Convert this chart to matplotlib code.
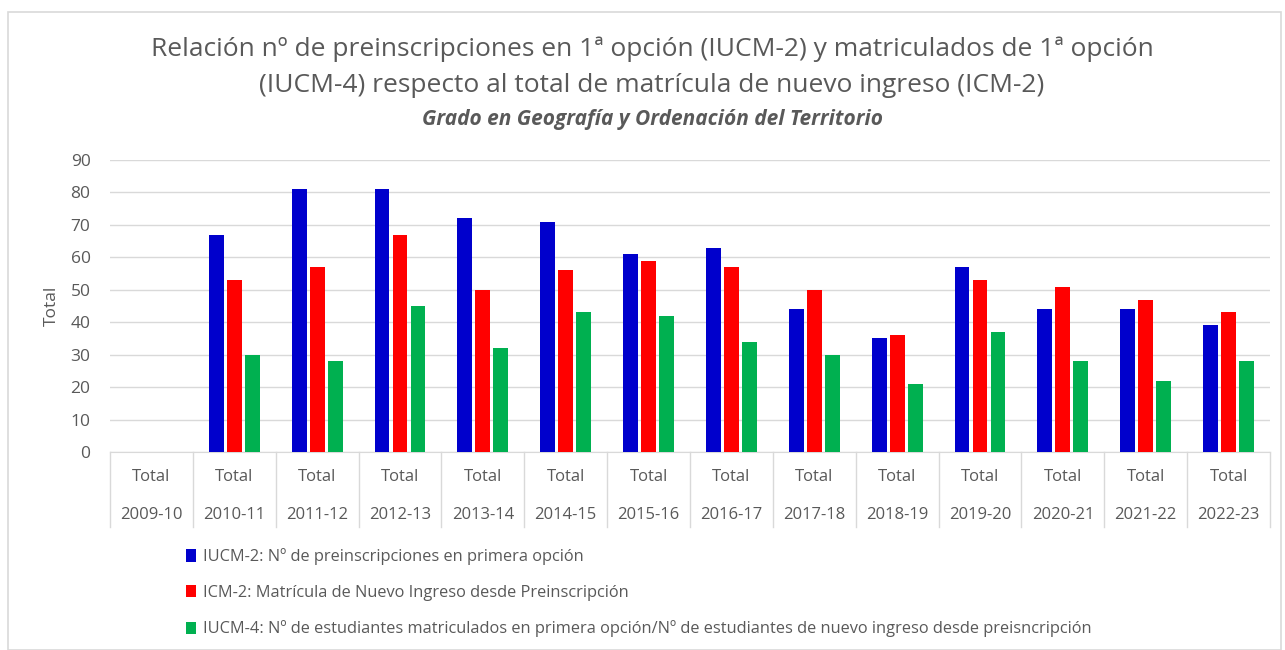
import matplotlib
matplotlib.use('Agg')
import matplotlib.pyplot as plt
from matplotlib.patches import Rectangle
import matplotlib.transforms as mtransforms
import numpy as np

years = ['2009-10', '2010-11', '2011-12', '2012-13', '2013-14', '2014-15', '2015-16',
         '2016-17', '2017-18', '2018-19', '2019-20', '2020-21', '2021-22', '2022-23']
iucm2 = [0, 67, 81, 81, 72, 71, 61, 63, 44, 35, 57, 44, 44, 39]
icm2 = [0, 53, 57, 67, 50, 56, 59, 57, 50, 36, 53, 51, 47, 43]
iucm4 = [0, 30, 28, 45, 32, 43, 42, 34, 30, 21, 37, 28, 22, 28]

labels = ['IUCM-2: Nº de preinscripciones en primera opción',
          'ICM-2: Matrícula de Nuevo Ingreso desde Preinscripción',
          'IUCM-4: Nº de estudiantes matriculados en primera opción/Nº de estudiantes de nuevo ingreso desde preisncripción']
colors = ['#0000CC', '#FF0000', '#00B050']

plt.rcParams['font.family'] = ['Open Sans', 'DejaVu Sans']
txt = '#595959'
grid = '#D9D9D9'

W, H = 1285, 650
fig = plt.figure(figsize=(W / 100, H / 100), dpi=100)
fig.patches.append(Rectangle((8 / W, 0), (W - 12) / W, 1 - 12 / H, transform=fig.transFigure,
                             fill=False, edgecolor='#D9D9D9', linewidth=1.2))

ax = fig.add_axes([110 / W, 1 - 452 / H, (1270 - 110) / W, (452 - 160) / H])

x = np.arange(len(years))
width = 0.18
step = 0.217
bars = []
for i, (vals, c) in enumerate(zip([iucm2, icm2, iucm4], colors)):
    b = ax.bar(x + (i - 1) * step, vals, width, color=c, label=labels[i], zorder=3)
    bars.append(b)

ax.set_xlim(-0.5, len(years) - 0.5)
ax.set_ylim(0, 90)
ax.set_yticks(np.arange(0, 91, 10))
ax.tick_params(axis='y', length=0, labelsize=12.5, labelcolor=txt, pad=14)
ax.set_xticks([])
ax.grid(axis='y', color=grid, linewidth=1)
ax.set_axisbelow(True)
for s in ['top', 'right', 'left']:
    ax.spines[s].set_visible(False)
ax.spines['bottom'].set_color(grid)
ax.set_ylabel('Total', fontsize=12.5, color=txt, labelpad=8)

# two-level category axis
trans = mtransforms.blended_transform_factory(ax.transData, ax.transAxes)
depth = 75 / (452 - 160)
for k in range(len(years) + 1):
    ax.plot([k - 0.5, k - 0.5], [0, -depth], transform=trans, color=grid,
            linewidth=1, clip_on=False)
for k, yr in enumerate(years):
    ax.text(k, -25 / 292, 'Total', transform=trans, ha='center', va='center',
            fontsize=12, color=txt)
    ax.text(k, -63 / 292, yr, transform=trans, ha='center', va='center',
            fontsize=12, color=txt)

fig.text(652 / W, 1 - 49 / H,
         'Relación nº de preinscripciones en 1ª opción (IUCM-2) y matriculados de 1ª opción',
         ha='center', va='center', fontsize=19, color=txt)
fig.text(652 / W, 1 - 86 / H,
         '(IUCM-4) respecto al total de matrícula de nuevo ingreso (ICM-2)',
         ha='center', va='center', fontsize=19, color=txt)
fig.text(652 / W, 1 - 119 / H, 'Grado en Geografía y Ordenación del Territorio',
         ha='center', va='center', fontsize=15, color=txt, fontweight='bold',
         fontstyle='italic')

fig.legend(handles=bars, loc='upper left', bbox_to_anchor=(178 / W, 1 - 540 / H),
           frameon=False, fontsize=11.8, labelcolor=txt, handlelength=0.6,
           handleheight=0.8, handletextpad=0.4, labelspacing=1.2, borderpad=0)

fig.savefig('out.png', dpi=100)
